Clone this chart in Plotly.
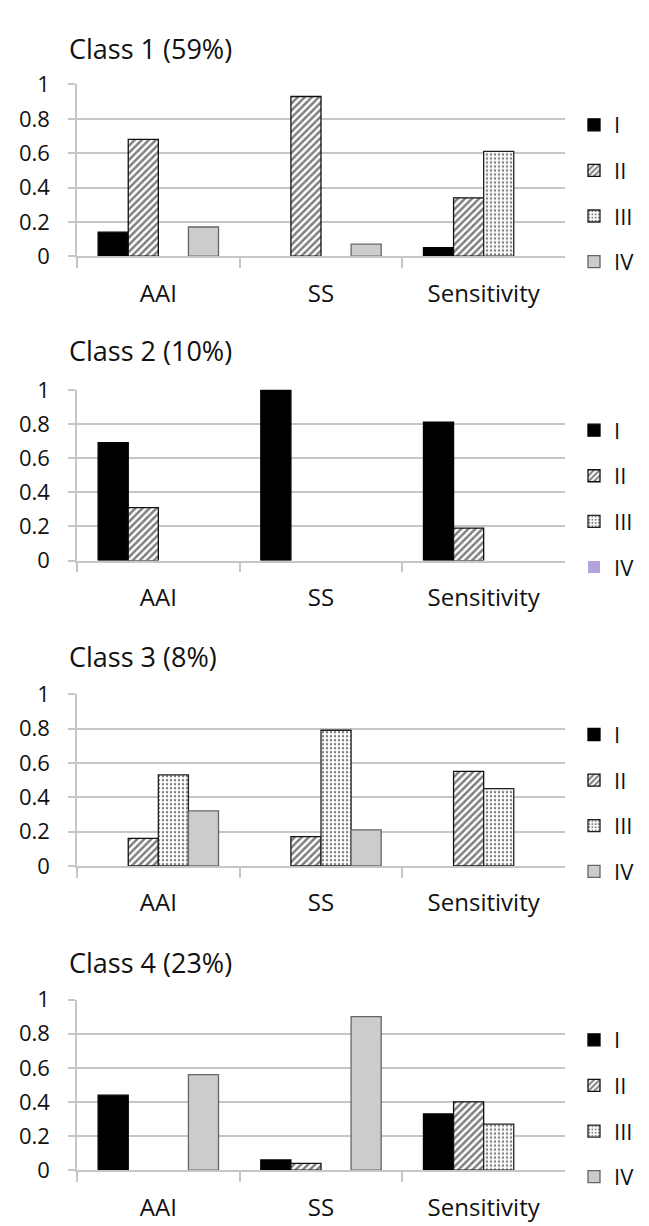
import plotly.graph_objects as go

categories = ["AAI", "SS", "Sensitivity"]
series_names = ["I", "II", "III", "IV"]
class_titles = ["Class 1 (59%)", "Class 2 (10%)", "Class 3 (8%)", "Class 4 (23%)"]

c1_I = [0.14, 0.00, 0.05]
c1_II = [0.68, 0.93, 0.34]
c1_III = [0.00, 0.00, 0.61]
c1_IV = [0.17, 0.07, 0.00]

c2_I = [0.69, 1.00, 0.81]
c2_II = [0.31, 0.00, 0.19]
c2_III = [0.00, 0.00, 0.00]
c2_IV = [0.00, 0.00, 0.00]

c3_I = [0.00, 0.00, 0.00]
c3_II = [0.16, 0.17, 0.55]
c3_III = [0.53, 0.79, 0.45]
c3_IV = [0.32, 0.21, 0.00]

c4_I = [0.44, 0.06, 0.33]
c4_II = [0.00, 0.04, 0.40]
c4_III = [0.00, 0.00, 0.27]
c4_IV = [0.56, 0.90, 0.00]

classes = [
    [c1_I, c1_II, c1_III, c1_IV],
    [c2_I, c2_II, c2_III, c2_IV],
    [c3_I, c3_II, c3_III, c3_IV],
    [c4_I, c4_II, c4_III, c4_IV],
]

W, H = 649, 1226
FONT = "Open Sans"
GRID = "#c6c6c6"

# pixel layout of each panel: (plot top, plot bottom, title y)
panels = [(62, 238, 25), (375, 550, 335), (687, 863, 648), (1000, 1175, 962)]
x_left, x_right = 69, 557


def series_style(k, panel):
    if k == 0:
        return dict(color="#000000", line=dict(color="#000000", width=1.3))
    if k == 1:
        return dict(color="#ffffff", line=dict(color="#111111", width=1.3),
                    pattern=dict(shape="/", fgcolor="#000000", bgcolor="#ffffff",
                                 size=5, solidity=0.5))
    if k == 2:
        return dict(color="#ffffff", line=dict(color="#222222", width=1.3),
                    pattern=dict(shape=".", fgcolor="#000000", bgcolor="#ffffff",
                                 size=4, solidity=0.3))
    if panel == 1:
        return dict(color="#b4a2dc", line=dict(color="#b4a2dc", width=0))
    return dict(color="#cccccc", line=dict(color="#666666", width=1.3))


fig = go.Figure()
layout = dict(
    width=W, height=H,
    margin=dict(l=0, r=0, t=0, b=0),
    paper_bgcolor="white", plot_bgcolor="white",
    barmode="group", bargap=0.26, bargroupgap=0,
    font=dict(family=FONT, color="#111111"),
    annotations=[],
)

for p, data in enumerate(classes):
    top, bot, ty = panels[p]
    sfx = "" if p == 0 else str(p + 1)
    lg = "legend" if p == 0 else "legend" + str(p + 1)
    for k, vals in enumerate(data):
        shown = [v if v > 0 else None for v in vals]
        fig.add_trace(go.Bar(
            x=categories, y=shown, name=series_names[k],
            xaxis="x" + sfx, yaxis="y" + sfx,
            marker=series_style(k, p),
            legend=lg, legendgroup=f"p{p}s{k}",
            hoverinfo="skip",
        ))
    layout["xaxis" + sfx] = dict(
        domain=[x_left / W, x_right / W], anchor="y" + sfx,
        showline=True, linecolor=GRID, linewidth=1.5,
        ticks="outside", tickson="boundaries", ticklen=10, tickcolor=GRID, tickwidth=1.5,
        showgrid=False, tickfont=dict(size=24, family=FONT, color="#111111"),
        ticklabelstandoff=15,
    )
    layout["yaxis" + sfx] = dict(
        domain=[1 - bot / H, 1 - top / H], anchor="x" + sfx,
        range=[0, 1.0], tickvals=[0, 0.2, 0.4, 0.6, 0.8, 1],
        ticktext=["0", "0.2", "0.4", "0.6", "0.8", "1"],
        showline=True, linecolor=GRID, linewidth=1.5,
        ticks="outside", ticklen=7, tickcolor=GRID, tickwidth=1.5,
        showgrid=True, gridcolor=GRID, gridwidth=1.5, zeroline=False,
        tickfont=dict(size=22, family=FONT, color="#111111"),
        ticklabelstandoff=14,
    )
    layout[lg] = dict(
        x=566 / W, y=1 - (top + 20) / H, xanchor="left", yanchor="top",
        font=dict(size=22, family=FONT, color="#111111"),
        tracegroupgap=14, bgcolor="rgba(0,0,0,0)", itemclick=False,
    )
    layout["annotations"].append(dict(
        text=class_titles[p], x=59 / W, y=1 - ty / H, xref="paper", yref="paper",
        xanchor="left", yanchor="middle", showarrow=False,
        font=dict(size=27, family=FONT, color="#111111"),
    ))

fig.update_layout(**layout)
fig.write_html("out.html")
